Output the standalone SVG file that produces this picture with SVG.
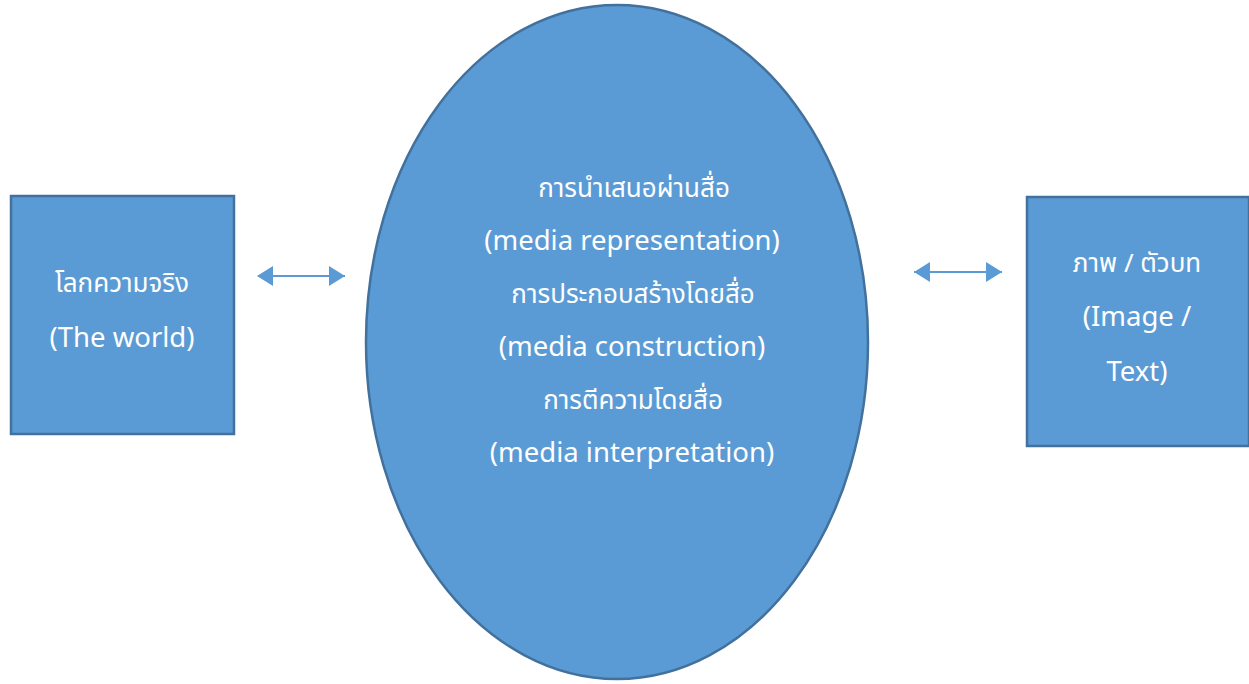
<svg xmlns="http://www.w3.org/2000/svg" width="1249" height="684" viewBox="0 0 1249 684">
<style>
.shape{fill:#5B9BD5;stroke:#41719C;stroke-width:2.5}
.t{font-family:"Noto Sans Thai","Noto Sans","Open Sans",sans-serif;font-size:26px;fill:#ffffff;text-anchor:middle}
.e{font-size:27.5px}
.c{stroke:#5B9BD5;stroke-width:2;fill:none}
.h{fill:#5B9BD5}
</style>
<rect width="1249" height="684" fill="#ffffff"/>
<g id="connectors">
<path class="c" d="M258,276 H345"/>
<polygon class="h" points="257,276 273,266 273,286"/>
<polygon class="h" points="345,276 329,266 329,286"/>
<path class="c" d="M914,272 H1002"/>
<polygon class="h" points="914,272 930,262 930,282"/>
<polygon class="h" points="1002,272 986,262 986,282"/>
</g>
<g id="world">
<rect class="shape" x="11" y="196" width="223" height="238"/>
<text class="t" x="122" y="292">โลกความจริง</text>
<text class="t e" x="122" y="347">(The world)</text>
</g>
<g id="media">
<ellipse class="shape" cx="617" cy="342" rx="251" ry="337"/>
<text class="t" x="634" y="197">การนำเสนอผ่านสื่อ</text>
<text class="t e" x="632" y="250">(media representation)</text>
<text class="t" x="633" y="303">การประกอบสร้างโดยสื่อ</text>
<text class="t e" x="632" y="356">(media construction)</text>
<text class="t" x="633" y="409">การตีความโดยสื่อ</text>
<text class="t e" x="632" y="462">(media interpretation)</text>
</g>
<g id="image-text">
<rect class="shape" x="1027" y="197" width="222" height="249"/>
<text class="t" x="1137" y="272">ภาพ / ตัวบท</text>
<text class="t e" x="1137" y="326">(Image /</text>
<text class="t e" x="1137" y="381">Text)</text>
</g>
</svg>
